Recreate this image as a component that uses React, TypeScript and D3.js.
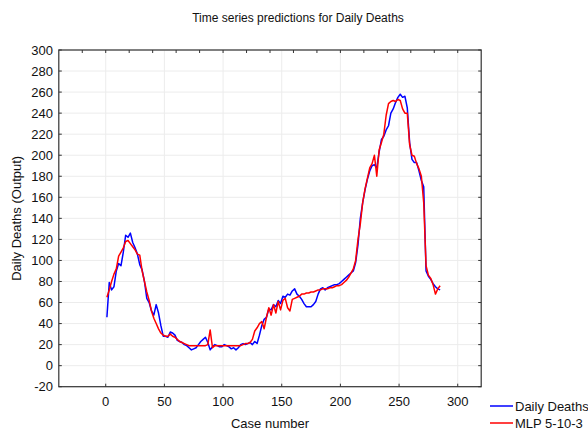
import * as d3 from "d3";

// case numbers 1, 3, 5 ... 285 (one reading every 2 cases)
const dailyDeaths = [
  46, 79, 72, 75, 90, 97, 95, 108, 124, 122, 126, 117, 112, 106, 96, 91, 80, 64, 60, 52,
  48, 58, 50, 38, 28, 28, 27, 32, 31, 29, 24, 23, 22, 20, 19, 17, 15, 16, 17, 20,
  23, 25, 27, 22, 15, 18, 20, 19, 18, 18, 20, 19, 18, 16, 17, 15, 17, 20, 21, 20,
  21, 22, 20, 23, 21, 29, 38, 44, 46, 54, 53, 58, 56, 62, 59, 66, 65, 68, 67, 71,
  73, 68, 66, 63, 59, 56, 56, 56, 58, 61, 68, 73, 74, 72, 74, 75, 76, 77, 77, 78,
  80, 82, 84, 86, 88, 90, 98, 115, 140, 155, 167, 177, 185, 190, 191, 188, 203, 215, 218, 224,
  228, 240, 244, 250, 255, 258, 255, 256, 245, 212, 196, 193, 193, 185, 176, 170, 90, 85, 82, 78,
  75, 73, 72,
];

const mlpPredicted = [
  65, 72, 80, 87, 92, 104, 108, 112, 118, 119, 116, 113, 110, 106, 105, 90, 80, 70, 62, 52,
  45, 40, 35, 31, 29, 28, 28, 30, 28, 27, 25, 23, 22, 21, 20, 19, 19, 19, 19, 19,
  19, 19, 19, 20, 34, 17, 19, 19, 19, 19, 19, 19, 19, 19, 19, 19, 19, 19, 20, 21,
  21, 22, 25, 33, 36, 40, 42, 35, 46, 55, 48, 58, 50, 61, 53, 62, 64, 55, 52, 63,
  64, 65, 66, 68, 68, 69, 69, 70, 70, 71, 72, 72, 73, 73, 73, 74, 74, 75, 76, 76,
  77, 79, 81, 84, 88, 92, 100, 120, 135, 155, 168, 178, 188, 192, 200, 180, 205, 212, 220, 238,
  249, 251, 252, 251, 253, 252, 244, 240, 240, 210, 200, 199, 192, 187, 180, 155, 95, 86, 83, 77,
  68, 73, 76,
];

const seriesNames = ["Daily Deaths", "MLP 5-10-3"];
const seriesColors = ["#0000ff", "#ff0000"];

const yTicks = d3.range(-20, 301, 20);
const xTicks = d3.range(0, 301, 50);
const xMinorTicks = d3.range(-20, 301, 20);

const W = 588;
const H = 433;
const font = "'Liberation Sans', Arial, sans-serif";

export default function App() {
  const x = d3.scaleLinear().domain([-40, 320]).range([58.8, 481.2]);
  const y = d3.scaleLinear().domain([-20, 300]).range([386.7, 50]);

  const caseOf = (i: number) => 1 + i * 2;
  const line = d3
    .line<number>()
    .x((_, i) => x(caseOf(i)))
    .y((d) => y(d));

  const [x0, x1] = x.range();
  const [y0, y1] = y.range();

  return (
    <svg
      width={W}
      height={H}
      style={{ position: "absolute", left: 0, top: 0, background: "#fff" }}
      fontFamily={font}
    >
      <text x={298} y={22} textAnchor="middle" fontSize={12} fill="#111">
        Time series predictions for Daily Deaths
      </text>

      {/* grid */}
      {yTicks.map((t) => (
        <line key={"gy" + t} x1={x0} x2={x1} y1={y(t)} y2={y(t)} stroke="#ececec" strokeWidth={1} />
      ))}
      {xTicks.map((t) => (
        <line key={"gx" + t} x1={x(t)} x2={x(t)} y1={y0} y2={y1} stroke="#ececec" strokeWidth={1} />
      ))}

      {/* series */}
      <path d={line(dailyDeaths) ?? ""} fill="none" stroke={seriesColors[0]} strokeWidth={1.5} strokeLinejoin="round" />
      <path d={line(mlpPredicted) ?? ""} fill="none" stroke={seriesColors[1]} strokeWidth={1.5} strokeLinejoin="round" />

      {/* frame */}
      <rect x={x0} y={y1} width={x1 - x0} height={y0 - y1} fill="none" stroke="#333" strokeWidth={1.2} />

      {/* ticks */}
      {yTicks.map((t) => (
        <g key={"ty" + t}>
          <line x1={x0} x2={x0 + 3} y1={y(t)} y2={y(t)} stroke="#333" />
          <line x1={x1} x2={x1 - 3} y1={y(t)} y2={y(t)} stroke="#333" />
          <text x={53} y={y(t)} dy="0.35em" textAnchor="end" fontSize={13} fill="#111">
            {t}
          </text>
        </g>
      ))}
      {xMinorTicks.map((t) => (
        <line key={"tt" + t} x1={x(t)} x2={x(t)} y1={y1} y2={y1 + 3} stroke="#333" />
      ))}
      {xTicks.map((t) => (
        <g key={"tx" + t}>
          <line x1={x(t)} x2={x(t)} y1={y0} y2={y0 - 3} stroke="#333" />
          <text x={x(t)} y={406} textAnchor="middle" fontSize={13} fill="#111">
            {t}
          </text>
        </g>
      ))}

      <text x={270} y={428} textAnchor="middle" fontSize={13} fill="#111">
        Case number
      </text>
      <text
        transform={`translate(21,${(y0 + y1) / 2}) rotate(-90)`}
        textAnchor="middle"
        fontSize={13}
        fill="#111"
      >
        Daily Deaths (Output)
      </text>

      {/* legend */}
      {seriesNames.map((name, i) => (
        <g key={name} transform={`translate(490,${406 + i * 17})`}>
          <line x1={0} x2={23} y1={0} y2={0} stroke={seriesColors[i]} strokeWidth={1.5} />
          <text x={25} y={0} dy="0.35em" fontSize={13} fill="#111">
            {name}
          </text>
        </g>
      ))}
    </svg>
  );
}
